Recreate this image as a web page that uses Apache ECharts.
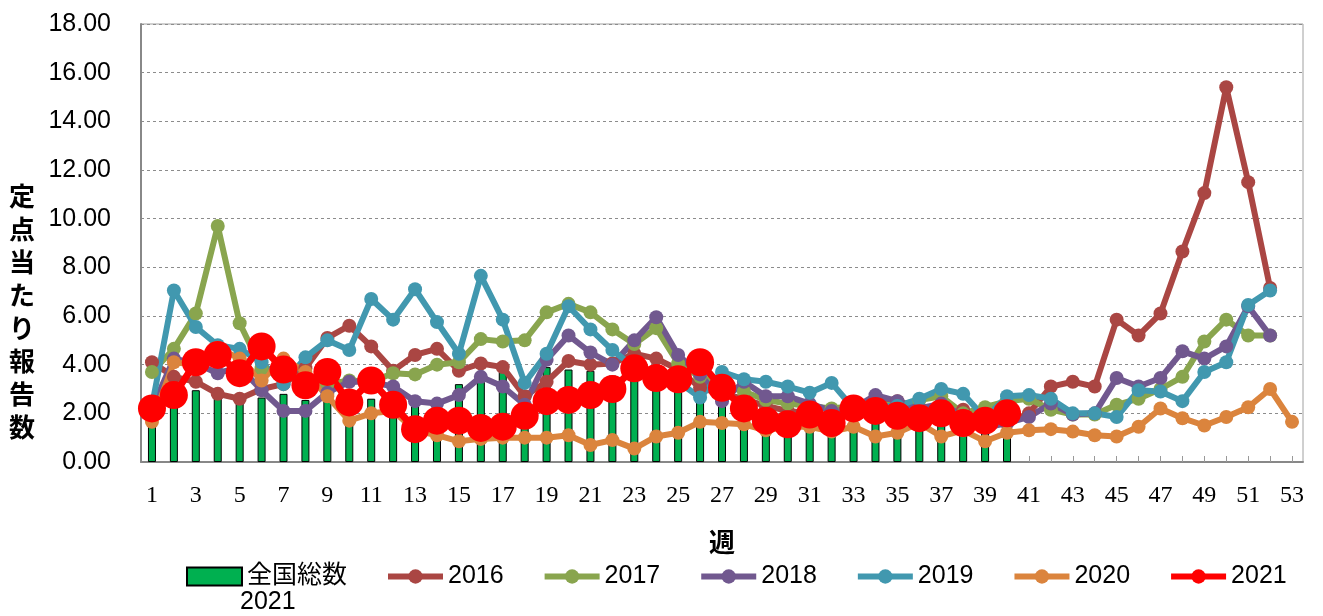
<!DOCTYPE html>
<html style="height: 100%">
    <head>
        <meta charset="utf-8">
        <title>定点当たり報告数</title>
        <script type="text/javascript" src="https://fastly.jsdelivr.net/npm/echarts@6.0.0/dist/echarts.min.js"></script>
    </head>
    <body style="height: 100%; margin: 0">
        <div id="target" style="width: 1323px; height: 616px"></div>
<script>
// weeks 1..53
const weeks = [];
for (let i = 1; i <= 53; i++) weeks.push(String(i));

// 全国総数 2021 (bars, weeks 1-40)
const national2021 = [1.8, 2.5, 2.95, 2.75, 2.6, 2.65, 2.8, 2.55, 2.7, 2.4,
    2.6, 2.3, 2.3, 1.4, 3.2, 3.3, 3.7, 2.0, 3.9, 3.8,
    3.75, 3.55, 3.5, 3.6, 3.3, 3.2, 3.0, 2.1, 1.5, 1.45,
    1.6, 1.4, 1.7, 1.8, 1.6, 1.6, 1.6, 1.4, 1.3, 1.5];

const y2016 = [4.1, 3.5, 3.3, 2.8, 2.6, 3.0, 3.2, 3.85, 5.1, 5.6,
    4.75, 3.75, 4.4, 4.65, 3.75, 4.05, 3.9, 2.7, 3.3, 4.15,
    4.0, 4.05, 4.45, 4.25, 3.8, 3.05, 2.8, 2.6, 2.3, 2.1,
    2.0, 1.9, 2.3, 2.6, 2.5, 2.2, 2.3, 2.15, 1.7, 1.6,
    2.0, 3.1, 3.3, 3.1, 5.85, 5.2, 6.1, 8.65, 11.05, 15.4,
    11.5, 7.15, null];

const y2017 = [3.7, 4.65, 6.1, 9.7, 5.7, 3.85, 3.6, 3.4, 3.2, 3.35,
    3.3, 3.65, 3.6, 4.0, 4.1, 5.05, 4.95, 5.0, 6.15, 6.5,
    6.15, 5.45, 4.85, 5.5, 4.05, 3.5, 3.2, 2.9, 2.55, 2.4,
    2.3, 2.2, 2.3, 2.4, 2.3, 2.55, 2.7, 2.0, 2.25, 2.5,
    2.6, 2.15, 1.95, 1.95, 2.35, 2.6, 3.0, 3.5, 4.95, 5.85,
    5.2, 5.2, null];

const y2018 = [2.2, 4.25, 4.05, 3.65, 3.9, 2.95, 2.1, 2.1, 2.85, 3.3,
    3.3, 3.1, 2.5, 2.4, 2.75, 3.5, 3.1, 2.35, 4.2, 5.2,
    4.5, 4.0, 5.0, 5.95, 4.4, 3.6, 2.5, 3.3, 2.7, 2.7,
    2.4, 2.1, 2.2, 2.75, 2.5, 2.2, 2.4, 1.9, 1.4, 1.6,
    1.85, 2.4, 1.95, 2.0, 3.45, 3.1, 3.45, 4.55, 4.25, 4.75,
    6.4, 5.2, null];

const y2019 = [2.3, 7.05, 5.55, 4.8, 4.65, 4.1, 3.2, 4.3, 5.0, 4.6,
    6.7, 5.85, 7.1, 5.75, 4.45, 7.65, 5.85, 3.25, 4.45, 6.4,
    5.45, 4.6, 3.9, 3.6, 3.3, 2.65, 3.7, 3.4, 3.3, 3.1,
    2.85, 3.25, 2.2, 2.3, 2.3, 2.6, 3.0, 2.8, 1.8, 2.7,
    2.75, 2.6, 2.0, 2.0, 1.85, 2.95, 2.9, 2.5, 3.7, 4.1,
    6.45, 7.05, null];

const y2020 = [1.65, 4.1, 4.0, 4.7, 4.25, 3.35, 4.25, 3.7, 2.7, 1.7,
    2.0, 2.1, 1.3, 1.1, 0.85, 0.95, 1.0, 1.0, 1.0, 1.1,
    0.7, 0.9, 0.55, 1.05, 1.2, 1.65, 1.6, 1.55, 1.3, 1.45,
    1.45, 1.25, 1.45, 1.05, 1.2, 1.6, 1.05, 1.3, 0.85, 1.2,
    1.3, 1.35, 1.25, 1.1, 1.05, 1.45, 2.2, 1.8, 1.5, 1.85,
    2.25, 3.0, 1.65];

const y2021 = [2.2, 2.75, 4.1, 4.4, 3.65, 4.75, 3.8, 3.15, 3.7, 2.45,
    3.35, 2.35, 1.35, 1.7, 1.7, 1.4, 1.45, 1.9, 2.5, 2.55,
    2.75, 3.0, 3.85, 3.45, 3.4, 4.1, 3.05, 2.2, 1.7, 1.55,
    1.95, 1.6, 2.2, 2.1, 1.9, 1.8, 2.0, 1.6, 1.7, 2.0];

const yTicks = { min: 0, max: 18, interval: 2 };

let chart = echarts.init(document.getElementById('target'));

const sansFont = '"Liberation Sans", Arial, "Noto Sans CJK JP", sans-serif';

// helper for the yearly line series
let lineSeries = (name, data, color, size, width) => ({
    name: name,
    type: 'line',
    data: data,
    symbol: 'circle',
    symbolSize: size || 14,
    showAllSymbol: true,
    lineStyle: { color: color, width: width || 6 },
    itemStyle: { color: color },
});

let option = {
    animation: false,
    grid: {
        left: 141,
        right: 20,
        top: 24,
        bottom: 154,
        show: true,
        borderColor: '#a0a0a0',
        borderWidth: 1,
    },
    legend: {
        left: 181,
        top: 559,
        itemWidth: 55,
        itemHeight: 18,
        itemGap: 38,
        lineStyle: { width: 6 },
        textStyle: { fontFamily: sansFont, fontSize: 25, color: '#000' },
        data: [
            { name: '全国総数', icon: 'rect' },
            '2016', '2017', '2018', '2019', '2020', '2021',
        ],
    },
    xAxis: {
        type: 'category',
        data: weeks,
        name: '週',
        nameLocation: 'middle',
        nameGap: 67,
        nameTextStyle: { fontFamily: '"Noto Sans CJK JP"', fontWeight: 'bold', fontSize: 26, color: '#000' },
        axisLine: { lineStyle: { color: '#888', width: 2 } },
        axisTick: { show: true, inside: true, length: 6, alignWithLabel: true, interval: 0, lineStyle: { color: '#999' } },
        axisLabel: {
            interval: 1,
            margin: 22,
            fontFamily: '"Liberation Serif", "Times New Roman", serif',
            fontSize: 24,
            color: '#000',
        },
        splitLine: { show: false },
    },
    yAxis: {
        type: 'value',
        min: yTicks.min,
        max: yTicks.max,
        interval: yTicks.interval,
        axisLine: { show: true, lineStyle: { color: '#888', width: 2 } },
        axisTick: { show: false },
        axisLabel: {
            margin: 30,
            fontFamily: sansFont,
            fontSize: 25,
            color: '#000',
            formatter: (v) => v.toFixed(2),
        },
        splitLine: { lineStyle: { color: '#8c8c8c', type: [3, 3], width: 1 } },
    },
    graphic: [
        {
            type: 'text',
            left: 9,
            top: 180,
            style: {
                text: '定\n点\n当\nた\nり\n報\n告\n数',
                font: 'bold 26px "Noto Sans CJK JP"',
                lineHeight: 33,
                fill: '#000',
            },
        },
        {
            type: 'text',
            left: 240,
            top: 590,
            style: {
                text: '2021',
                font: '25px ' + sansFont,
                fill: '#000',
            },
        },
    ],
    series: [
        {
            name: '全国総数',
            type: 'bar',
            data: national2021,
            barWidth: 8,
            itemStyle: { color: '#00B050', borderColor: '#000', borderWidth: 1 },
        },
        lineSeries('2016', y2016, '#AA4643'),
        lineSeries('2017', y2017, '#89A54E'),
        lineSeries('2018', y2018, '#71588F'),
        lineSeries('2019', y2019, '#4198AF'),
        lineSeries('2020', y2020, '#DB843D'),
        lineSeries('2021', y2021, '#FF0000', 28, 7),
    ],
};

chart.setOption(option);
</script>
    </body>
</html>
